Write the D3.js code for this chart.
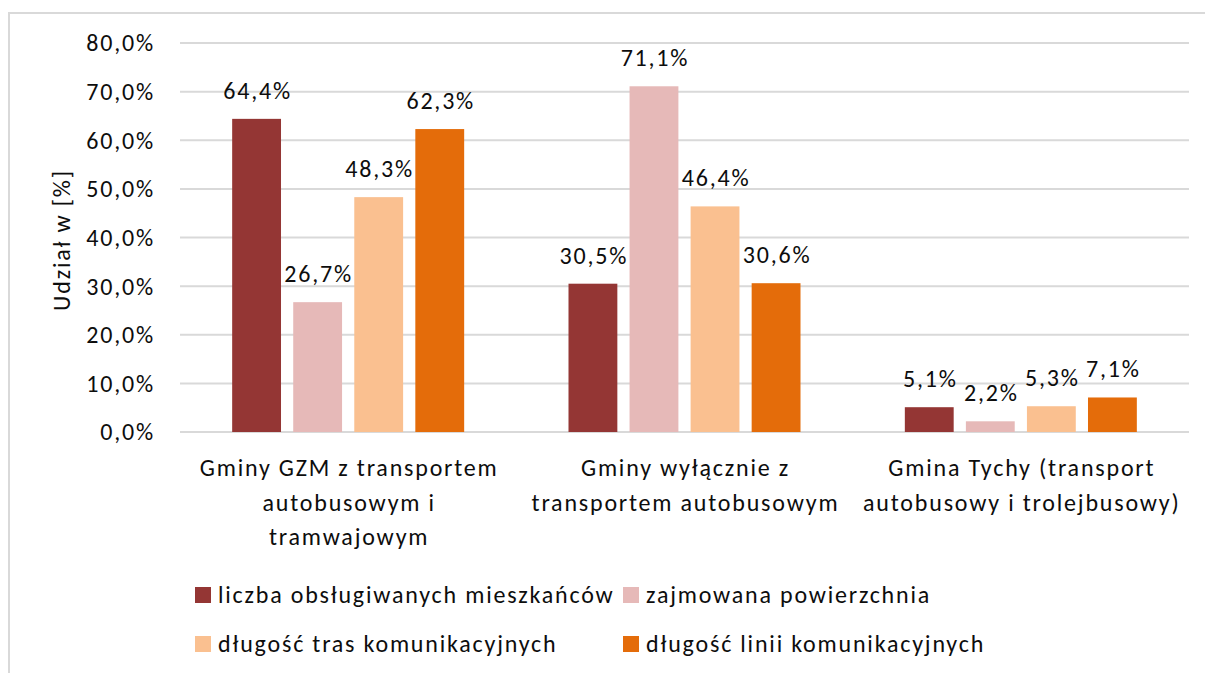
<!DOCTYPE html>
<html>
<head>
<meta charset="utf-8">
<script src="https://cdn.jsdelivr.net/npm/d3@7"></script>
<style>
  body { margin: 0; background: #fff; }
  svg text { font-family: Carlito, Calibri, Lato, sans-serif; fill: #0d0d0d; letter-spacing: 1.8px; }
</style>
</head>
<body>
<div id="chart"></div>
<script>
const categories = [
  ['Gminy GZM z transportem', 'autobusowym i', 'tramwajowym'],
  ['Gminy wyłącznie z', 'transportem autobusowym'],
  ['Gmina Tychy (transport', 'autobusowy i trolejbusowy)']
];
const seriesNames = [
  'liczba obsługiwanych mieszkańców',
  'zajmowana powierzchnia',
  'długość tras komunikacyjnych',
  'długość linii komunikacyjnych'
];
const seriesColors = ['#943634', '#e6b9b8', '#fac090', '#e46c0a'];
// one array per series, values in percent, in category order
const mieszkancy = [64.4, 30.5, 5.1];
const powierzchnia = [26.7, 71.1, 2.2];
const trasy = [48.3, 46.4, 5.3];
const linie = [62.3, 30.6, 7.1];
const yTicks = [0, 10, 20, 30, 40, 50, 60, 70, 80];

const series = [mieszkancy, powierzchnia, trasy, linie];
const W = 1205, H = 673;
const plot = { left: 180, right: 1189, top: 43, bottom: 432 };

const svg = d3.select('#chart').append('svg')
  .attr('width', W).attr('height', H);

// outer chart frame (only left and top visible in the crop)
svg.append('rect')
  .attr('x', 9).attr('y', 13)
  .attr('width', W + 20).attr('height', H + 20)
  .attr('fill', 'none').attr('stroke', '#d9d9d9').attr('stroke-width', 2);

const y = d3.scaleLinear().domain([0, 80]).range([plot.bottom, plot.top]);
const x0 = d3.scaleBand().domain(d3.range(categories.length))
  .range([plot.left, plot.right]);
const groupW = 232;
const x1 = d3.scaleBand().domain(d3.range(series.length))
  .range([0, groupW]).paddingInner(0.2);

const fmt = (v) => d3.format('.1f')(v).replace('.', ',') + '%';

// gridlines
svg.append('g').selectAll('line').data(yTicks).join('line')
  .attr('x1', plot.left).attr('x2', plot.right)
  .attr('y1', (d) => y(d)).attr('y2', (d) => y(d))
  .attr('stroke', '#d9d9d9').attr('stroke-width', 2);

// y tick labels
svg.append('g').selectAll('text').data(yTicks).join('text')
  .attr('x', 155).attr('y', (d) => y(d))
  .attr('dy', '0.35em')
  .attr('text-anchor', 'end')
  .attr('font-size', 24)
  .text(fmt);

// y axis title
svg.append('text')
  .attr('transform', `translate(70,240) rotate(-90)`)
  .attr('text-anchor', 'middle')
  .attr('font-size', 24)
  .text('Udział w [%]');

// bars
const groups = svg.append('g').selectAll('g').data(categories).join('g')
  .attr('transform', (d, i) => `translate(${x0(i) + (x0.bandwidth() - groupW) / 2},0)`);

groups.each(function (cat, ci) {
  const g = d3.select(this);
  const vals = series.map((s, si) => ({ si, v: s[ci] }));
  g.selectAll('rect').data(vals).join('rect')
    .attr('x', (d) => x1(d.si))
    .attr('width', x1.bandwidth())
    .attr('y', (d) => y(d.v))
    .attr('height', (d) => y(0) - y(d.v))
    .attr('fill', (d) => seriesColors[d.si]);
  g.selectAll('text').data(vals).join('text')
    .attr('x', (d) => x1(d.si) + x1.bandwidth() / 2 + 1)
    .attr('y', (d) => y(d.v) - 20)
    .attr('text-anchor', 'middle')
    .attr('font-size', 24)
    .text((d) => fmt(d.v));
});

// category labels
const catLabels = svg.append('g').selectAll('text').data(categories).join('text')
  .attr('text-anchor', 'middle')
  .attr('font-size', 24)
  .attr('x', (d, i) => x0(i) + x0.bandwidth() / 2 + 1)
  .attr('y', 476);
catLabels.selectAll('tspan').data((d) => d).join('tspan')
  .attr('x', function () { return d3.select(this.parentNode).attr('x'); })
  .attr('dy', (d, i) => (i === 0 ? 0 : 34.5))
  .text((d) => d);

// legend
const legendPos = [[195, 595], [623, 595], [195, 644], [623, 644]];
const legend = svg.append('g').selectAll('g').data(seriesNames).join('g')
  .attr('transform', (d, i) => `translate(${legendPos[i][0]},${legendPos[i][1]})`);
legend.append('rect')
  .attr('x', 0).attr('y', -8).attr('width', 16).attr('height', 16)
  .attr('fill', (d, i) => seriesColors[i]);
legend.append('text')
  .attr('x', 23).attr('y', 0).attr('dy', '0.35em')
  .attr('font-size', 24)
  .text((d) => d);
</script>
</body>
</html>
